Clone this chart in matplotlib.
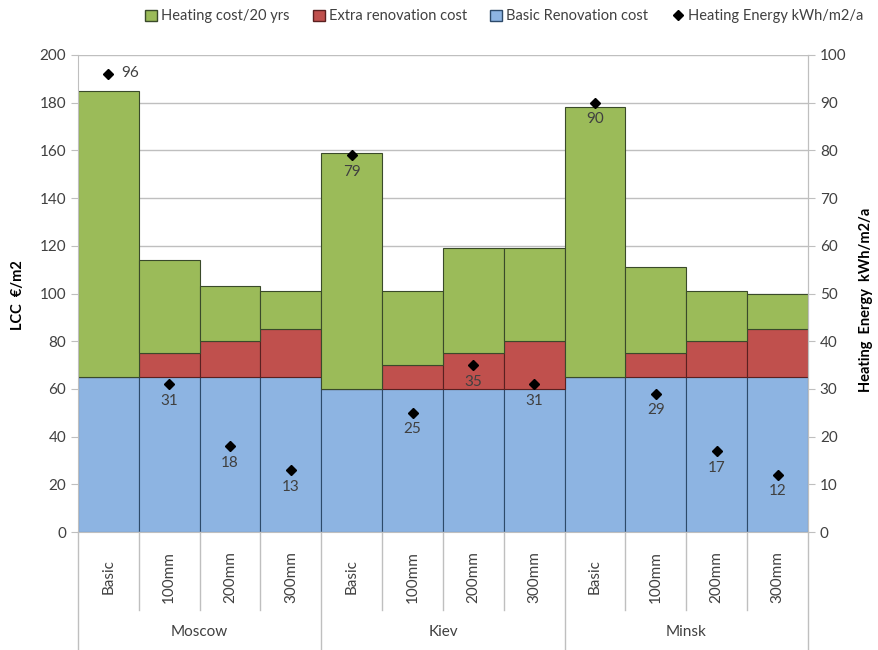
import matplotlib
matplotlib.use("Agg")
import matplotlib.pyplot as plt
from matplotlib.patches import Patch
from matplotlib.lines import Line2D

plt.rcParams['font.family'] = ['Lato', 'DejaVu Sans']

cities = ['Moscow', 'Kiev', 'Minsk']
variants = ['Basic', '100mm', '200mm', '300mm']

basic_cost = [65, 65, 65, 65, 60, 60, 60, 60, 65, 65, 65, 65]
extra_cost = [0, 10, 15, 20, 0, 10, 15, 20, 0, 10, 15, 20]
heating_cost = [120, 39, 23, 16, 99, 31, 44, 39, 113, 36, 21, 15]
heating_energy = [96, 31, 18, 13, 79, 25, 35, 31, 90, 29, 17, 12]

green = '#9bbb59'
red = '#c0504d'
blue = '#8db4e2'
edge = '#3a4a2a'
txt = '#404040'

fig = plt.figure(figsize=(8.79, 6.5), dpi=100)
ax = fig.add_axes([78 / 879, 1 - 532 / 650, 730 / 879, 477 / 650])

x = list(range(len(basic_cost)))
b2 = [b + e for b, e in zip(basic_cost, extra_cost)]
ax.bar(x, basic_cost, width=1, color=blue, edgecolor='#2d4a6a', linewidth=0.8, zorder=2)
ax.bar(x, extra_cost, width=1, bottom=basic_cost, color=red, edgecolor='#5a2020', linewidth=0.8, zorder=2)
ax.bar(x, heating_cost, width=1, bottom=b2, color=green, edgecolor=edge, linewidth=0.8, zorder=2)

ax.set_xlim(-0.5, len(x) - 0.5)
ax.set_ylim(0, 200)
ax.set_yticks(range(0, 201, 20))
ax.grid(axis='y', color='#bfbfbf', linewidth=1, zorder=0)
ax.set_axisbelow(True)
ax.set_xticks([])
ax.tick_params(axis='y', colors='#bfbfbf', labelcolor=txt, labelsize=11, length=5)
ax.spines['top'].set_visible(False)
for s in ['left', 'right', 'bottom']:
    ax.spines[s].set_color('#bfbfbf')

ax2 = ax.twinx()
ax2.set_ylim(0, 100)
ax2.set_yticks(range(0, 101, 10))
ax2.tick_params(axis='y', colors='#bfbfbf', labelcolor=txt, labelsize=11, length=5)
for s in ['top', 'left', 'bottom']:
    ax2.spines[s].set_visible(False)
ax2.spines['right'].set_color('#bfbfbf')
ax2.plot(x, heating_energy, linestyle='none', marker='D', markersize=5.5, color='black', zorder=5)
for i, v in enumerate(heating_energy):
    if i == 0:
        ax2.annotate(str(v), (i, v), xytext=(9, 1), textcoords='offset points',
                     ha='left', va='center', fontsize=11, color=txt)
    else:
        ax2.annotate(str(v), (i, v), xytext=(0, -7), textcoords='offset points',
                     ha='center', va='top', fontsize=11, color=txt)

# axis titles
fig.text(18 / 879, 1 - 295 / 650, 'LCC  €/m2', rotation=90, ha='center', va='center',
         fontsize=10.5, fontweight='bold', color='black')
fig.text(866 / 879, 1 - 300 / 650, 'Heating  Energy  kWh/m2/a', rotation=90, ha='center', va='center',
         fontsize=10.5, fontweight='bold', color='black')

# two-level category axis
tr = ax.get_xaxis_transform()
n = len(variants)
for i in range(len(x) + 1):
    bottom = -118 / 477 if i % n == 0 else -78 / 477
    ax.plot([i - 0.5, i - 0.5], [0, bottom], color='#bfbfbf', linewidth=1, transform=tr, clip_on=False)
for i in x:
    ax.text(i, -45 / 477, variants[i % n], rotation=90, ha='center', va='center',
            fontsize=11, color=txt, transform=tr)
for j, c in enumerate(cities):
    ax.text(j * n + (n - 1) / 2, -100 / 477, c, ha='center', va='center',
            fontsize=11, color=txt, transform=tr)

handles = [
    Patch(facecolor=green, edgecolor=edge, label='Heating cost/20 yrs'),
    Patch(facecolor=red, edgecolor='#5a2020', label='Extra renovation cost'),
    Patch(facecolor=blue, edgecolor='#2d4a6a', label='Basic Renovation cost'),
    Line2D([], [], linestyle='none', marker='D', markersize=5, color='black', label='Heating Energy kWh/m2/a'),
]
fig.legend(handles=handles, loc='center left', bbox_to_anchor=(145 / 879, 0.975), ncol=4, frameon=False,
           fontsize=10.5, handlelength=0.8, handleheight=0.8, handletextpad=0.3, columnspacing=1.6,
           labelcolor=txt, borderaxespad=0, borderpad=0)

fig.savefig('out.png', dpi=100)
